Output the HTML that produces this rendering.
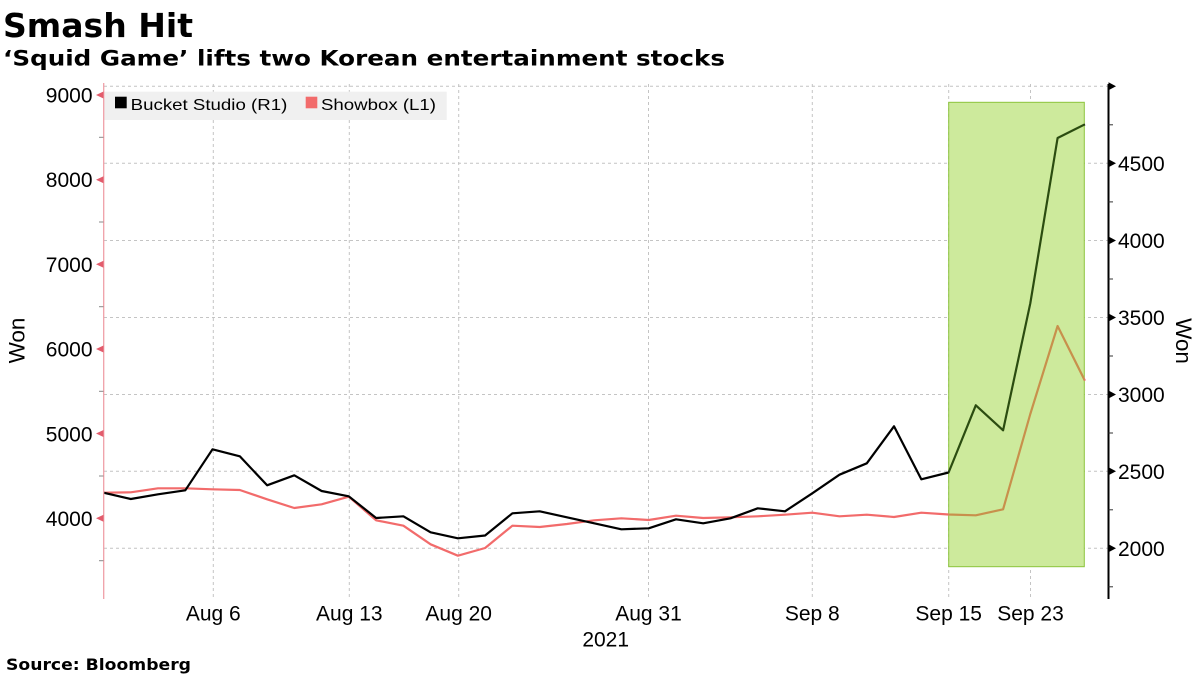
<!DOCTYPE html>
<html><head><meta charset="utf-8"><style>
html,body{margin:0;padding:0;background:#fff;}
svg{display:block;}
text{font-family:"Liberation Sans",sans-serif;}
.h{font-family:"DejaVu Sans","Liberation Sans",sans-serif;font-weight:bold;}
</style></head><body>
<svg width="1200" height="675" viewBox="0 0 1200 675" xmlns="http://www.w3.org/2000/svg">
<defs>
<clipPath id="outside"><path d="M0 0H1200V675H0Z M948.7 102.3V566.7H1084.3V102.3Z" clip-rule="evenodd"/></clipPath>
<clipPath id="inside"><rect x="948.7" y="102.3" width="135.6" height="464.4"/></clipPath>
</defs>
<text class="h" x="3" y="37" font-size="33" textLength="190" lengthAdjust="spacingAndGlyphs">Smash Hit</text>
<text class="h" x="3" y="65.5" font-size="21" textLength="722" lengthAdjust="spacingAndGlyphs">‘Squid Game’ lifts two Korean entertainment stocks</text>
<g stroke="#c4c4c4" stroke-width="1" stroke-dasharray="3,3" fill="none">
<line x1="104" y1="86.3" x2="1108" y2="86.3"/>
<line x1="104" y1="163.3" x2="1108" y2="163.3"/>
<line x1="104" y1="240.5" x2="1108" y2="240.5"/>
<line x1="104" y1="317.5" x2="1108" y2="317.5"/>
<line x1="104" y1="394.5" x2="1108" y2="394.5"/>
<line x1="104" y1="471.3" x2="1108" y2="471.3"/>
<line x1="104" y1="548.3" x2="1108" y2="548.3"/>
<line x1="213.3" y1="84" x2="213.3" y2="599"/>
<line x1="349.3" y1="84" x2="349.3" y2="599"/>
<line x1="458.7" y1="84" x2="458.7" y2="599"/>
<line x1="648.5" y1="84" x2="648.5" y2="599"/>
<line x1="812.3" y1="84" x2="812.3" y2="599"/>
<line x1="948.7" y1="84" x2="948.7" y2="599"/>
<line x1="1030.5" y1="84" x2="1030.5" y2="599"/>
</g>
<rect x="104" y="91.7" width="342.7" height="28.3" fill="#f0f0f0"/>
<rect x="115" y="96.7" width="11.7" height="11.6" fill="#000"/>
<text x="130.7" y="110" font-size="16" textLength="156.6" lengthAdjust="spacingAndGlyphs">Bucket Studio (R1)</text>
<rect x="305.7" y="96.7" width="11.6" height="11.6" fill="#f26b6b"/>
<text x="321" y="110" font-size="16" textLength="115" lengthAdjust="spacingAndGlyphs">Showbox (L1)</text>
<rect x="948.7" y="102.3" width="135.6" height="464.4" fill="#cdea9c" stroke="#8cc43c" stroke-width="1"/>
<g fill="none" stroke-width="2.2" stroke-linejoin="round" clip-path="url(#outside)">
<polyline stroke="#f26b6b" points="103.5,492.7 130.8,492.3 158.0,488.3 185.3,488.3 212.5,489.3 239.8,490.0 267.1,499.3 294.3,508.0 321.6,504.3 348.8,496.7 376.1,520.3 403.4,525.7 430.6,544.3 457.9,555.7 485.1,548.0 512.4,525.7 539.7,527.0 566.9,524.0 594.2,520.3 621.4,518.3 648.7,520.0 676.0,515.7 703.2,518.0 730.5,517.3 757.7,516.3 785.0,514.7 812.3,512.7 839.5,516.3 866.8,514.7 894.0,517.0 921.3,512.7 948.6,514.5 975.8,515.3 1003.1,509.3 1030.3,414.0 1057.6,326.0 1084.9,380.7"/>
<polyline stroke="#000" points="103.5,492.7 130.8,499.0 158.0,494.3 185.3,490.3 212.5,449.3 239.8,456.3 267.1,485.3 294.3,475.3 321.6,491.0 348.8,496.3 376.1,518.0 403.4,516.3 430.6,532.3 457.9,538.3 485.1,535.5 512.4,513.3 539.7,511.3 566.9,517.3 594.2,523.3 621.4,529.3 648.7,528.3 676.0,519.3 703.2,523.3 730.5,518.3 757.7,508.3 785.0,511.3 812.3,493.3 839.5,474.7 866.8,463.3 894.0,426.3 921.3,479.3 948.6,472.5 975.8,405.3 1003.1,430.3 1030.3,303.3 1057.6,138.0 1084.9,124.3"/>
</g>
<g fill="none" stroke-width="2.2" stroke-linejoin="round" clip-path="url(#inside)">
<polyline stroke="#c8904c" points="921.3,512.7 948.6,514.5 975.8,515.3 1003.1,509.3 1030.3,414.0 1057.6,326.0 1084.9,380.7"/>
<polyline stroke="#2b4c10" points="921.3,479.3 948.6,472.5 975.8,405.3 1003.1,430.3 1030.3,303.3 1057.6,138.0 1084.9,124.3"/>
</g>
<line x1="103.7" y1="83" x2="103.7" y2="599" stroke="#f0a0a8" stroke-width="1.3"/>
<g fill="#e25c6c">
<polygon points="103.5,91.5 103.5,98.5 96,95"/>
<polygon points="103.5,176.2 103.5,183.2 96,179.7"/>
<polygon points="103.5,260.8 103.5,267.8 96,264.3"/>
<polygon points="103.5,345.5 103.5,352.5 96,349"/>
<polygon points="103.5,430 103.5,437 96,433.5"/>
<polygon points="103.5,514.8 103.5,521.8 96,518.3"/>
</g>
<g stroke="#888" stroke-width="1">
<line x1="99" y1="137.3" x2="103.5" y2="137.3"/>
<line x1="99" y1="222" x2="103.5" y2="222"/>
<line x1="99" y1="306.7" x2="103.5" y2="306.7"/>
<line x1="99" y1="391.3" x2="103.5" y2="391.3"/>
<line x1="99" y1="476" x2="103.5" y2="476"/>
<line x1="99" y1="560.7" x2="103.5" y2="560.7"/>
</g>
<g font-size="21" text-anchor="end" fill="#000">
<text x="92.5" y="102.5">9000</text>
<text x="92.5" y="187.2">8000</text>
<text x="92.5" y="271.8">7000</text>
<text x="92.5" y="356.5">6000</text>
<text x="92.5" y="441.5">5000</text>
<text x="92.5" y="525.8">4000</text>
</g>
<line x1="1108.5" y1="84" x2="1108.5" y2="599" stroke="#000" stroke-width="2"/>
<g fill="#000">
<polygon points="1108.5,82.3 1108.5,90.3 1116,86.3"/>
<polygon points="1108.5,159.3 1108.5,167.3 1116,163.3"/>
<polygon points="1108.5,236.5 1108.5,244.5 1116,240.5"/>
<polygon points="1108.5,313.5 1108.5,321.5 1116,317.5"/>
<polygon points="1108.5,390.5 1108.5,398.5 1116,394.5"/>
<polygon points="1108.5,467.3 1108.5,475.3 1116,471.3"/>
<polygon points="1108.5,544.3 1108.5,552.3 1116,548.3"/>
</g>
<g stroke="#333" stroke-width="1">
<line x1="1108.5" y1="124.8" x2="1113" y2="124.8"/>
<line x1="1108.5" y1="201.9" x2="1113" y2="201.9"/>
<line x1="1108.5" y1="279" x2="1113" y2="279"/>
<line x1="1108.5" y1="356" x2="1113" y2="356"/>
<line x1="1108.5" y1="433" x2="1113" y2="433"/>
<line x1="1108.5" y1="509.8" x2="1113" y2="509.8"/>
<line x1="1108.5" y1="586.8" x2="1113" y2="586.8"/>
</g>
<g font-size="21" fill="#000">
<text x="1118" y="171">4500</text>
<text x="1118" y="248.2">4000</text>
<text x="1118" y="325.2">3500</text>
<text x="1118" y="402.2">3000</text>
<text x="1118" y="479">2500</text>
<text x="1118" y="556">2000</text>
</g>
<g font-size="21" text-anchor="middle" fill="#000">
<text x="213.3" y="620.5">Aug 6</text>
<text x="349.3" y="620.5">Aug 13</text>
<text x="458.7" y="620.5">Aug 20</text>
<text x="648.5" y="620.5">Aug 31</text>
<text x="812.3" y="620.5">Sep 8</text>
<text x="948.7" y="620.5">Sep 15</text>
<text x="1030.5" y="620.5">Sep 23</text>
<text x="605.7" y="646.5">2021</text>
</g>
<text transform="translate(24.5,340.5) rotate(-90)" font-size="22.5" text-anchor="middle">Won</text>
<text transform="translate(1176,341) rotate(90)" font-size="22.5" text-anchor="middle">Won</text>
<text class="h" x="6" y="670" font-size="16" textLength="185" lengthAdjust="spacingAndGlyphs">Source: Bloomberg</text>
</svg>
</body></html>
